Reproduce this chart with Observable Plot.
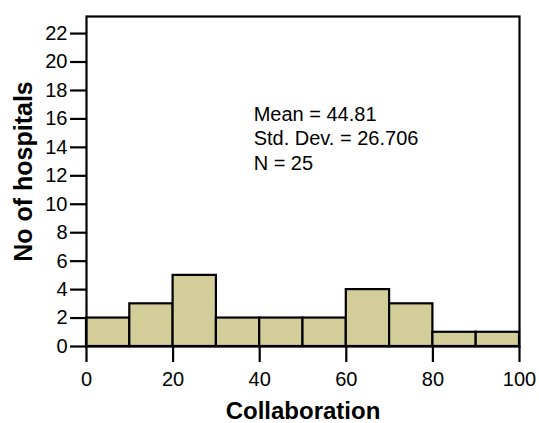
<!DOCTYPE html>
<html>
<head>
<meta charset="utf-8">
<script src="https://cdn.jsdelivr.net/npm/d3@7"></script>
<script src="https://cdn.jsdelivr.net/npm/@observablehq/plot@0.6"></script>
<style>
  html, body { margin: 0; padding: 0; background: #fff; }
  #chart svg { display: block; font-family: "Liberation Sans", Arial, sans-serif; }
</style>
</head>
<body>
<div id="chart"></div>
<script>
const binStarts = [0, 10, 20, 30, 40, 50, 60, 70, 80, 90];
const binWidth = 10;
const counts = [2, 3, 5, 2, 2, 2, 4, 3, 1, 1];
const xTicks = [0, 20, 40, 60, 80, 100];
const yTicks = [0, 2, 4, 6, 8, 10, 12, 14, 16, 18, 20, 22];
const statLines = ["Mean = 44.81", "Std. Dev. = 26.706", "N = 25"];
const xLabel = "Collaboration";
const yLabel = "No of hospitals";

const bins = binStarts.map((s, i) => ({x1: s, x2: s + binWidth, count: counts[i]}));

const chart = Plot.plot({
  width: 539,
  height: 423,
  marginLeft: 86,
  marginRight: 20,
  marginTop: 16,
  marginBottom: 77,
  style: {fontFamily: "Liberation Sans, Arial, sans-serif", fontSize: "20px", color: "#000", background: "#fff"},
  x: {domain: [0, 100]},
  y: {domain: [0, 23.2]},
  marks: [
    Plot.rectY(bins, {x1: "x1", x2: "x2", y: "count", fill: "#d3cd99", stroke: "#000", strokeWidth: 2.2}),
    Plot.frame({stroke: "#000", strokeWidth: 2.2}),
    Plot.axisX({ticks: xTicks, tickSize: 16, tickPadding: 9, strokeWidth: 2.2, fontSize: 20, label: null}),
    Plot.axisY({ticks: yTicks, tickSize: 16, tickPadding: 3, strokeWidth: 2.2, fontSize: 20, label: null}),
    Plot.text([xLabel], {frameAnchor: "bottom", dy: 65, text: d => d, lineAnchor: "middle", textAnchor: "middle",
      fontSize: 24, fontWeight: "bold", fill: "#000"}),
    Plot.text([yLabel], {frameAnchor: "left", dx: -63, dy: -10, rotate: -90, text: d => d, lineAnchor: "middle", textAnchor: "middle",
      fontSize: 25, fontWeight: "bold", fill: "#000"}),
    Plot.text([statLines.join("\n")], {x: 38.6, y: 17.1, text: d => d, textAnchor: "start", lineAnchor: "top", lineHeight: 1.23, fontSize: 20, fill: "#000"})
  ]
});
document.getElementById("chart").appendChild(chart);
</script>
</body>
</html>
